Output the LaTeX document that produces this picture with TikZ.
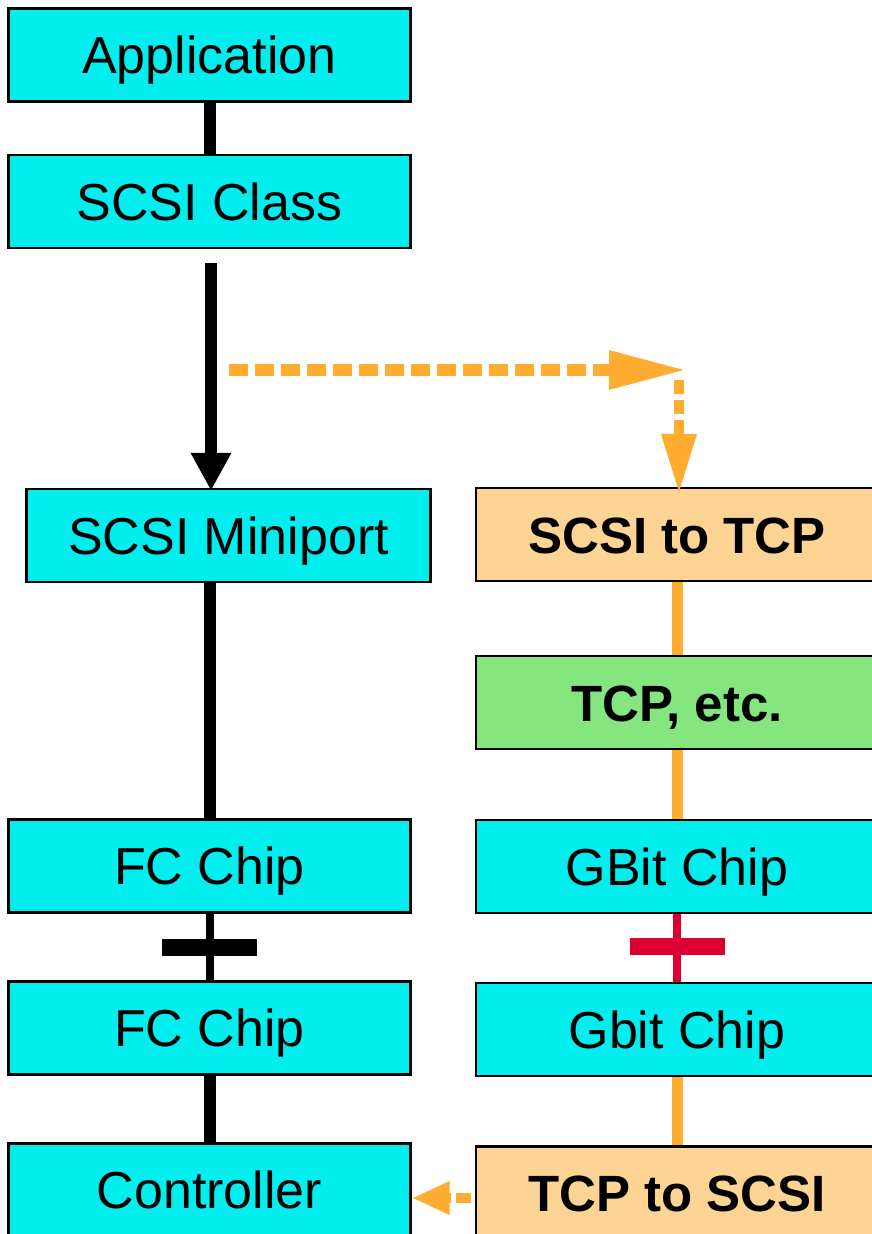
\documentclass[tikz,border=0pt]{standalone}
\usepackage{fontspec}
\setmainfont{Liberation Sans}
\usetikzlibrary{arrows.meta}
\definecolor{chipcyan}{RGB}{0,238,238}
\definecolor{shimpeach}{RGB}{253,212,148}
\definecolor{stackgreen}{RGB}{133,230,128}
\definecolor{wireorange}{RGB}{255,173,48}
\definecolor{breakred}{RGB}{220,0,50}
\begin{document}
\begin{tikzpicture}[x=1pt, y=-1pt,
    layer/.style={draw=black, line width=2.4pt, fill=chipcyan, minimum width=402pt,
      minimum height=93pt, inner sep=0pt, text height=37pt, text depth=0pt,
      font=\fontsize{52}{60}\selectfont},
    shim/.style={layer, fill=shimpeach, font=\fontsize{51}{60}\selectfont\bfseries},
    wire/.style={black, line width=12pt},
    owire/.style={wireorange, line width=11pt},
    cut/.style={fill=#1, minimum width=95pt, minimum height=17pt, inner sep=0pt}]
  \useasboundingbox (0,0) rectangle (872,1234);
  \clip (0,0) rectangle (872,1234);
  % left stack
  \node [layer] (app) at (209.5,55) {Application};
  \node [layer] (cls) at (209.5,201.5) {SCSI Class};
  \node [layer, minimum width=404pt] (mini) at (228.5,535.5) {SCSI Miniport};
  \node [layer] (fcA) at (209.5,866) {FC Chip};
  \node [layer] (fcB) at (209.5,1028) {FC Chip};
  \node [layer] (ctl) at (209.5,1190) {Controller};
  % right stack
  \node [shim] (s2t) at (677,534.5) {SCSI to TCP};
  \node [shim, fill=stackgreen] (tcp) at (677,702.5) {TCP, etc.};
  \node [layer] (gbA) at (677,866.5) {GBit Chip};
  \node [layer] (gbB) at (677,1029.5) {Gbit Chip};
  \node [shim] (t2s) at (677,1193) {TCP to SCSI};
  \coordinate (clsout) at (211,263);
  \coordinate (tapin) at (229,370);
  \coordinate (tapturn) at (687,370);
  \coordinate (tapdown) at (679,380);
  \coordinate (retout) at (471,1198);

  \draw [wire] (app) -- (cls);
  \draw [wire, shorten >=-3pt, -{Triangle[length=38pt,width=38pt]}]
    (clsout) -- (clsout |- mini.north);
  \draw [wire] (mini.south -| fcA) -- (fcA);
  \draw [black, line width=8pt] (fcA) -- node [cut=black] (fcbar) {} (fcB);
  \draw [wire] (fcB) -- (ctl);

  \draw [wireorange, line width=12pt, dash pattern=on 19pt off 7pt,
         -{Triangle[length=78pt,width=36pt]}] (tapin) -- (tapturn);
  \draw [wireorange, line width=10pt, dash pattern=on 14pt off 6pt, shorten >=-7pt,
         -{Triangle[length=60pt,width=33pt]}] (tapdown) -- (tapdown |- s2t.north);
  \draw [owire] (s2t) -- (tcp);
  \draw [owire] (tcp) -- (gbA);
  \draw [breakred, line width=8pt] (gbA) -- node [cut=breakred, yshift=2pt] (gbbar) {} (gbB);
  \draw [owire] (gbB) -- (t2s);
  \draw [wireorange, line width=10pt, dash pattern=on 15pt off 5pt,
         -{Triangle[length=38pt,width=31pt]}] (retout) -- (retout -| ctl.east);
\end{tikzpicture}
\end{document}
